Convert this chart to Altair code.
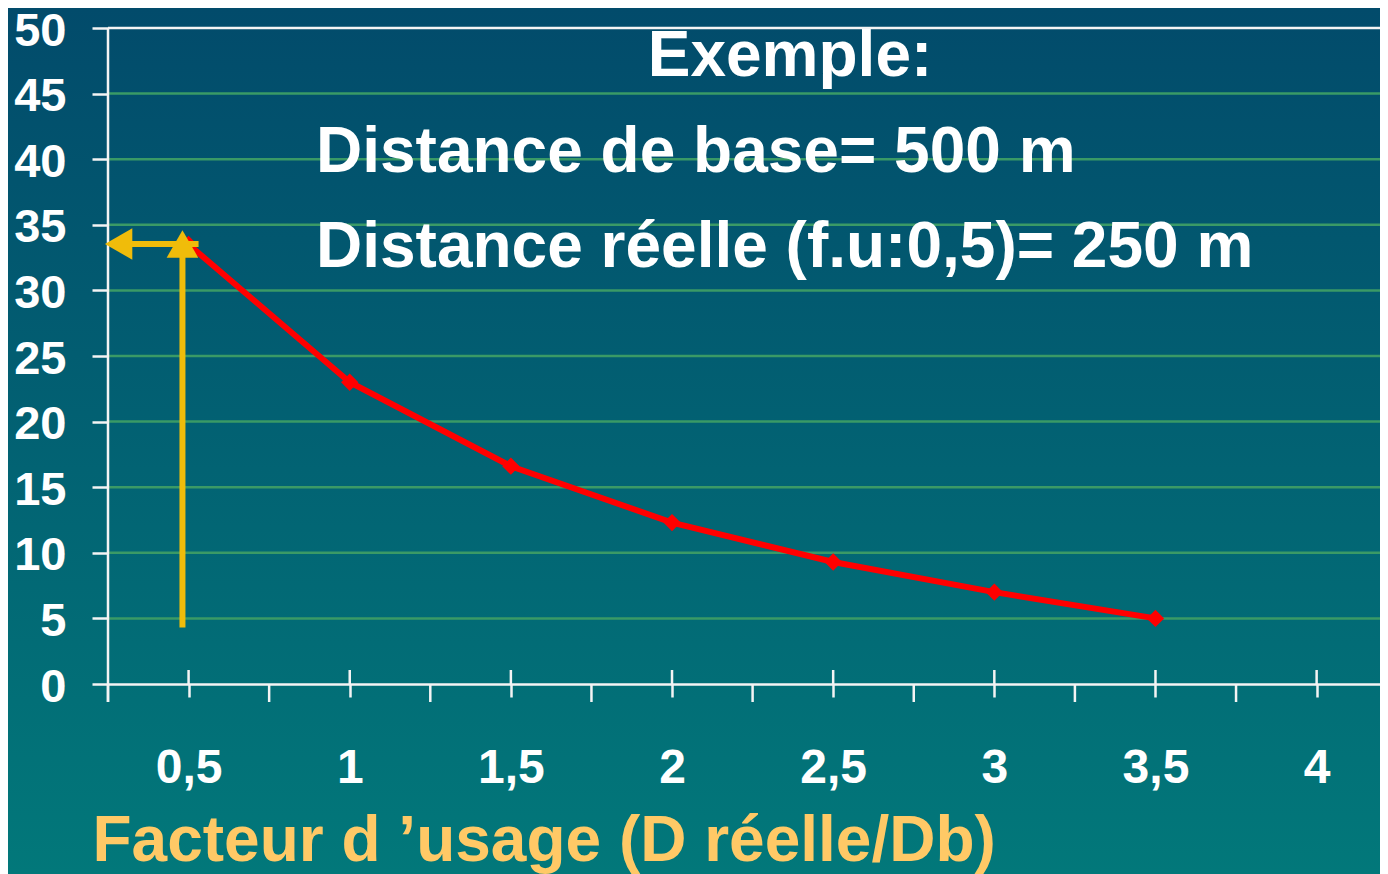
import altair as alt
import pandas as pd

# ---- data ----
usage_factor = [0.5, 1.0, 1.5, 2.0, 2.5, 3.0, 3.5]
values = [33.5, 23.0, 16.6, 12.3, 9.3, 7.0, 5.0]
major_ticks = [0.5, 1.0, 1.5, 2.0, 2.5, 3.0, 3.5, 4.0]
minor_ticks = [0.25, 0.75, 1.25, 1.75, 2.25, 2.75, 3.25, 3.75]
y_ticks = [0, 5, 10, 15, 20, 25, 30, 35, 40, 45, 50]
grid_values = [5, 10, 15, 20, 25, 30, 35, 40, 45]
arrow_x = [0.481]
arrow_y_from = [4.3]
arrow_level = [33.54]
arrow_head_x = [0.283]
arrow_tail_x = [0.531]

title_lines = ["Exemple:", "Distance de base= 500 m", "Distance réelle (f.u:0,5)= 250 m"]
x_title = "Facteur d \u2019usage (D réelle/Db)"

W, H = 1272, 656
FONT = "Liberation Sans"
YELLOW = "#f0bc0a"
GRID = "#3a9a66"
WHITE = "#f4f4f4"

df = pd.DataFrame({"f": usage_factor, "v": values})

xs = alt.Scale(domain=[0.25, 0.25 + W / 322.3], nice=False, zero=False)
ys = alt.Scale(domain=[0, 50], nice=False)

grad = alt.LinearGradient(
    gradient="linear",
    stops=[alt.GradientStop(color="#024b6b", offset=0),
           alt.GradientStop(color="#02787a", offset=1)],
    x1=0, x2=0, y1=0, y2=1,
)

bg = alt.Chart(alt.Data(values=[{}])).mark_rect(fill=grad).encode(
    x=alt.value(-100), x2=alt.value(W), y=alt.value(-20), y2=alt.value(H + 190)
)

grid = alt.Chart(pd.DataFrame({"g": grid_values})).mark_rule(color=GRID, strokeWidth=2.5).encode(
    y=alt.Y("g:Q", scale=ys)
)
top_line = alt.Chart(pd.DataFrame({"g": [50]})).mark_rule(color=WHITE, strokeWidth=2.5).encode(
    y=alt.Y("g:Q", scale=ys)
)
y_domain = alt.Chart(alt.Data(values=[{}])).mark_rule(color=WHITE, strokeWidth=2.5).encode(
    x=alt.value(0), y=alt.value(0), y2=alt.value(H + 18)
)
minor = alt.Chart(pd.DataFrame({"t": minor_ticks})).mark_rule(color=WHITE, strokeWidth=2.5).encode(
    x=alt.X("t:Q", scale=xs), y=alt.value(H), y2=alt.value(H + 18)
)
major_up = alt.Chart(pd.DataFrame({"t": major_ticks})).mark_rule(color=WHITE, strokeWidth=2.5).encode(
    x=alt.X("t:Q", scale=xs), y=alt.value(H - 14), y2=alt.value(H)
)

line = alt.Chart(df).mark_line(color="#ff0000", strokeWidth=6).encode(
    x=alt.X(
        "f:Q", scale=xs,
        axis=alt.Axis(
            values=major_ticks, grid=False, domain=True, domainColor=WHITE, domainWidth=2.5,
            ticks=True, tickSize=13, tickColor=WHITE, tickWidth=2.5,
            labelExpr="replace(format(datum.value, '~g'), '.', ',')",
            labelFont=FONT, labelFontSize=48, labelFontWeight="bold", labelColor="white",
            labelBaseline="alphabetic", labelPadding=85, labelFlush=False, labelOverlap=False,
            title=x_title, titleFont=FONT, titleFontSize=64, titleFontWeight="bold",
            titleColor="#ffc966", titleAnchor="start", titleAlign="left",
            titleX=-16, titleY=176, titleBaseline="alphabetic", zindex=1,
        ),
    ),
    y=alt.Y(
        "v:Q", scale=ys,
        axis=alt.Axis(
            values=y_ticks, grid=False, domain=False,
            ticks=True, tickSize=16, tickColor=WHITE, tickWidth=2.5,
            labelFont=FONT, labelFontSize=47, labelFontWeight="bold", labelColor="white",
            labelPadding=26, labelOffset=3, labelFlush=False, labelOverlap=False,
            title=None, zindex=1,
        ),
    ),
)
pts = alt.Chart(df).mark_point(shape="diamond", filled=True, size=300, color="#ff0000", opacity=1).encode(
    x=alt.X("f:Q", scale=xs), y=alt.Y("v:Q", scale=ys)
)

vdf = pd.DataFrame({"x": arrow_x, "y": arrow_y_from, "y2": arrow_level})
vline = alt.Chart(vdf).mark_rule(color=YELLOW, strokeWidth=6).encode(
    x=alt.X("x:Q", scale=xs), y=alt.Y("y:Q", scale=ys), y2="y2:Q"
)
hdf = pd.DataFrame({"x": arrow_head_x, "x2": arrow_tail_x, "y": arrow_level})
hline = alt.Chart(hdf).mark_rule(color=YELLOW, strokeWidth=6).encode(
    x=alt.X("x:Q", scale=xs), x2="x2:Q", y=alt.Y("y:Q", scale=ys)
)
up = alt.Chart(pd.DataFrame({"x": arrow_x, "y": arrow_level})).mark_point(
    shape="triangle-up", filled=True, size=1000, color=YELLOW, opacity=1
).encode(x=alt.X("x:Q", scale=xs), y=alt.Y("y:Q", scale=ys))
left = alt.Chart(pd.DataFrame({"x": arrow_head_x, "y": arrow_level})).mark_point(
    shape="triangle-left", filled=True, size=1000, color=YELLOW, opacity=1
).encode(x=alt.X("x:Q", scale=xs), y=alt.Y("y:Q", scale=ys))

def label(txt, px, py, align):
    return alt.Chart(alt.Data(values=[{}])).mark_text(
        text=txt, font=FONT, fontSize=64, fontWeight="bold", color="white",
        align=align, baseline="alphabetic",
    ).encode(x=alt.value(px), y=alt.value(py))

t1 = label(title_lines[0], 682, 48, "center")
t2 = label(title_lines[1], 208, 144, "left")
t3 = label(title_lines[2], 208, 239, "left")

chart = alt.layer(
    bg, grid, top_line, y_domain, minor, major_up, line, pts, vline, hline, up, left, t1, t2, t3
).properties(
    width=W, height=H,
    autosize=alt.AutoSizeParams(type="none"),
    padding={"left": 100, "top": 20, "right": 0, "bottom": 190},
    background="#015f70",
).configure_view(stroke=None)

chart.save("out.html", embed_options={"renderer": "svg", "actions": False})
